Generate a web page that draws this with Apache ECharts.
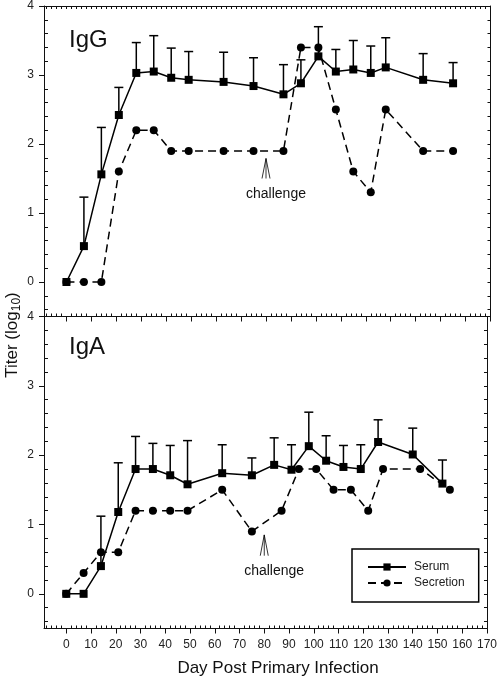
<!DOCTYPE html>
<html><head><meta charset="utf-8">
<script src="https://cdn.jsdelivr.net/npm/echarts@6/dist/echarts.min.js"></script>
<style>html,body{margin:0;padding:0;background:#fff}#c{width:500px;height:678px}</style>
</head><body><div id="c"></div>
<script>
// ---- Data ----
// IgG panel
const igGSerumDays = [0,7,14,21,28,35,42,49,63,75,87,94,101,108,115,122,128,143,155];
const igGSerum     = [0,0.52,1.56,2.42,3.03,3.05,2.96,2.93,2.90,2.84,2.72,2.88,3.27,3.05,3.08,3.03,3.11,2.93,2.88];
const igGSerumErr  = [0,0.71,0.68,0.40,0.44,0.52,0.43,0.41,0.43,0.41,0.43,0.34,0.43,0.32,0.42,0.39,0.43,0.38,0.30];
const igGSecDays   = [0,7,14,21,28,35,42,49,63,75,87,94,101,108,115,122,128,143,155];
const igGSec       = [0,0,0,1.6,2.2,2.2,1.9,1.9,1.9,1.9,1.9,3.4,3.4,2.5,1.6,1.3,2.5,1.9,1.9];
// IgA panel
const igASerumDays = [0,7,14,21,28,35,42,49,63,75,84,91,98,105,112,119,126,140,152];
const igASerum     = [0,0,0.40,1.18,1.80,1.80,1.71,1.58,1.74,1.71,1.86,1.79,2.13,1.92,1.83,1.80,2.19,2.01,1.59];
const igASerumErr  = [0,0,0.72,0.71,0.47,0.37,0.43,0.63,0.41,0.25,0.39,0.36,0.49,0.36,0.31,0.35,0.32,0.38,0.34];
const igASecDays   = [0,7,14,21,28,35,42,49,63,75,87,94,101,108,115,122,128,143,155];
const igASec       = [0,0.3,0.6,0.6,1.2,1.2,1.2,1.2,1.5,0.9,1.2,1.8,1.8,1.5,1.5,1.2,1.8,1.8,1.5];
// challenge annotation: [arrowDay, tipValue, baseValue, textDay, textValue]
const challengeIgG = [80, 1.79, 1.50, 84, 1.27];
const challengeIgA = [80, 0.85, 0.55, 84, 0.33];
// axes
const xTicks = [0,10,20,30,40,50,60,70,80,90,100,110,120,130,140,150,160,170];
const xMinorTicks = [-8,-6,-4,-2,2,4,6,8,12,14,16,18,22,24,26,28,32,34,36,38,42,44,46,48,52,54,56,58,62,64,66,68,72,74,76,78,82,84,86,88,92,94,96,98,102,104,106,108,112,114,116,118,122,124,126,128,132,134,136,138,142,144,146,148,152,154,156,158,162,164,166,168];
const yTicks = [0,1,2,3,4];
const yMinorTicks = [-0.4,-0.2,0.2,0.4,0.6,0.8,1.2,1.4,1.6,1.8,2.2,2.4,2.6,2.8,3.2,3.4,3.6,3.8];
const panelLabels = ['IgG','IgA'];
const seriesNames = ['Serum','Secretion'];
const xLabel = 'Day Post Primary Infection';

const FONT = '"Liberation Sans", Arial, Helvetica, sans-serif';
const X_MIN = -9, X_MAX = 170, Y_MIN = -0.5, Y_MAX = 4;
const INK = '#111';

const panels = [
  {sd: igGSerumDays, s: igGSerum, se: igGSerumErr, cd: igGSecDays, c: igGSec, ch: challengeIgG},
  {sd: igASerumDays, s: igASerum, se: igASerumErr, cd: igASecDays, c: igASec, ch: challengeIgA}
];
const grids = [
  {left: 44, top: 5, width: 446.5, height: 311.5},
  {left: 44, top: 316.5, width: 446.5, height: 312}
];

const xAxes = [], yAxes = [], series = [];
panels.forEach((p, g) => {
  const xi = xAxes.length, yi = yAxes.length;
  xAxes.push({gridIndex: g, type: 'value', min: X_MIN, max: X_MAX, position: 'bottom',
    axisLine: {show: true, onZero: false, lineStyle: {color: INK, width: 1}},
    axisTick: {show: true, inside: false, length: 5, customValues: xTicks, lineStyle: {color: INK}},
    axisLabel: {show: g === 1, customValues: xTicks, margin: 10, fontSize: 12, color: '#222', fontFamily: FONT},
    splitLine: {show: false}});
  xAxes.push({gridIndex: g, type: 'value', min: X_MIN, max: X_MAX, position: 'bottom',
    axisLine: {show: false, onZero: false},
    axisTick: {show: true, inside: true, length: 3, customValues: xMinorTicks, lineStyle: {color: INK}},
    axisLabel: {show: false}, splitLine: {show: false}});
  xAxes.push({gridIndex: g, type: 'value', min: X_MIN, max: X_MAX, position: 'top',
    axisLine: {show: true, onZero: false, lineStyle: {color: INK, width: 1}},
    axisTick: {show: g === 0, inside: true, length: 3, customValues: xMinorTicks.concat(xTicks), lineStyle: {color: INK}},
    axisLabel: {show: false}, splitLine: {show: false}});
  yAxes.push({gridIndex: g, type: 'value', min: Y_MIN, max: Y_MAX, position: 'left',
    axisLine: {show: true, onZero: false, lineStyle: {color: INK, width: 1}},
    axisTick: {show: true, inside: false, length: 5, customValues: yTicks, lineStyle: {color: INK}},
    axisLabel: {show: true, customValues: yTicks, margin: 10, fontSize: 12, color: '#222', fontFamily: FONT},
    splitLine: {show: false}});
  yAxes.push({gridIndex: g, type: 'value', min: Y_MIN, max: Y_MAX, position: 'left',
    axisLine: {show: false, onZero: false},
    axisTick: {show: true, inside: true, length: 4, customValues: yMinorTicks, lineStyle: {color: INK}},
    axisLabel: {show: false}, splitLine: {show: false}});
  yAxes.push({gridIndex: g, type: 'value', min: Y_MIN, max: Y_MAX, position: 'right',
    axisLine: {show: true, onZero: false, lineStyle: {color: INK, width: 1}},
    axisTick: {show: true, inside: true, length: 3, customValues: yMinorTicks.concat(yTicks), lineStyle: {color: INK}},
    axisLabel: {show: false}, splitLine: {show: false}});

  // error bars (upper only)
  series.push({
    type: 'custom', name: 'err' + g, xAxisIndex: xi, yAxisIndex: yi, silent: true, z: 2,
    encode: {x: 0, y: 1},
    data: p.sd.map((d, i) => [d, p.s[i], p.se[i]]).filter(r => r[2] > 0),
    renderItem: (params, api) => {
      const x = api.value(0), m = api.value(1), e = api.value(2);
      const a = api.coord([x, m]), b = api.coord([x, m + e]);
      const hw = 4.5;
      return {type: 'group', children: [
        {type: 'line', shape: {x1: a[0], y1: a[1], x2: b[0], y2: b[1]}, style: {stroke: '#000', lineWidth: 1.5}},
        {type: 'line', shape: {x1: b[0] - hw, y1: b[1], x2: b[0] + hw, y2: b[1]}, style: {stroke: '#000', lineWidth: 1.5}}
      ]};
    }
  });
  series.push({
    type: 'line', name: seriesNames[0], xAxisIndex: xi, yAxisIndex: yi, z: 3,
    data: p.sd.map((d, i) => [d, p.s[i]]),
    symbol: 'rect', symbolSize: 8, showAllSymbol: true,
    lineStyle: {color: '#000', width: 1.5, type: 'solid'},
    itemStyle: {color: '#000'}, emphasis: {disabled: true}
  });
  series.push({
    type: 'line', name: seriesNames[1], xAxisIndex: xi, yAxisIndex: yi, z: 4,
    data: p.cd.map((d, i) => [d, p.c[i]]),
    symbol: 'circle', symbolSize: 8, showAllSymbol: true,
    lineStyle: {color: '#000', width: 1.5, type: [8, 5]},
    itemStyle: {color: '#000'}, emphasis: {disabled: true}
  });
  // challenge annotation
  series.push({
    type: 'custom', name: 'challenge' + g, xAxisIndex: xi, yAxisIndex: yi, silent: true, z: 5,
    encode: {x: 0, y: 1},
    data: [p.ch],
    renderItem: (params, api) => {
      const tip = api.coord([api.value(0), api.value(1)]);
      const base = api.coord([api.value(0), api.value(2)]);
      const t = api.coord([api.value(3), api.value(4)]);
      const st = {stroke: '#000', lineWidth: 0.8};
      return {type: 'group', children: [
        {type: 'line', shape: {x1: tip[0], y1: tip[1], x2: base[0], y2: base[1]}, style: st},
        {type: 'line', shape: {x1: tip[0], y1: tip[1], x2: base[0] - 4, y2: base[1]}, style: st},
        {type: 'line', shape: {x1: tip[0], y1: tip[1], x2: base[0] + 4, y2: base[1]}, style: st},
        {type: 'text', x: t[0], y: t[1], style: {text: 'challenge', fontSize: 14, fontFamily: FONT, fill: '#111', align: 'center', verticalAlign: 'middle'}}
      ]};
    }
  });
});

const chart = echarts.init(document.getElementById('c'), null, {renderer: 'canvas'});
chart.setOption({
  animation: false,
  backgroundColor: '#fff',
  textStyle: {fontFamily: FONT},
  grid: grids,
  xAxis: xAxes,
  yAxis: yAxes,
  series: series,
  legend: {
    data: seriesNames, orient: 'vertical', left: 352, top: 549,
    itemWidth: 38, itemHeight: 9, itemGap: 4,
    padding: [12, 14, 13, 15],
    borderColor: '#000', borderWidth: 1.5, backgroundColor: '#fff',
    selectedMode: false,
    textStyle: {fontSize: 12, color: '#222', fontFamily: FONT, padding: [0, 0, 0, 3]}
  },
  graphic: [
    {type: 'text', left: 69, top: 28, style: {text: panelLabels[0], fontSize: 24, fontFamily: FONT, fill: '#111'}},
    {type: 'text', left: 69, top: 335, style: {text: panelLabels[1], fontSize: 24, fontFamily: FONT, fill: '#111'}},
    {type: 'text', x: 278, y: 668, style: {text: xLabel, fontSize: 17, fontFamily: FONT, fill: '#111', align: 'center', verticalAlign: 'middle'}},
    {type: 'text', x: 12, y: 335, rotation: Math.PI / 2,
      style: {text: '{n|Titer (log}{s|10}{n|)}', align: 'center', verticalAlign: 'middle', fill: '#111',
        rich: {n: {fontSize: 17, fontFamily: FONT, lineHeight: 22, verticalAlign: 'middle'},
               s: {fontSize: 12, fontFamily: FONT, lineHeight: 12, verticalAlign: 'bottom', padding: [6, 0, 0, 0]}}}}
  ]
});
</script></body></html>
